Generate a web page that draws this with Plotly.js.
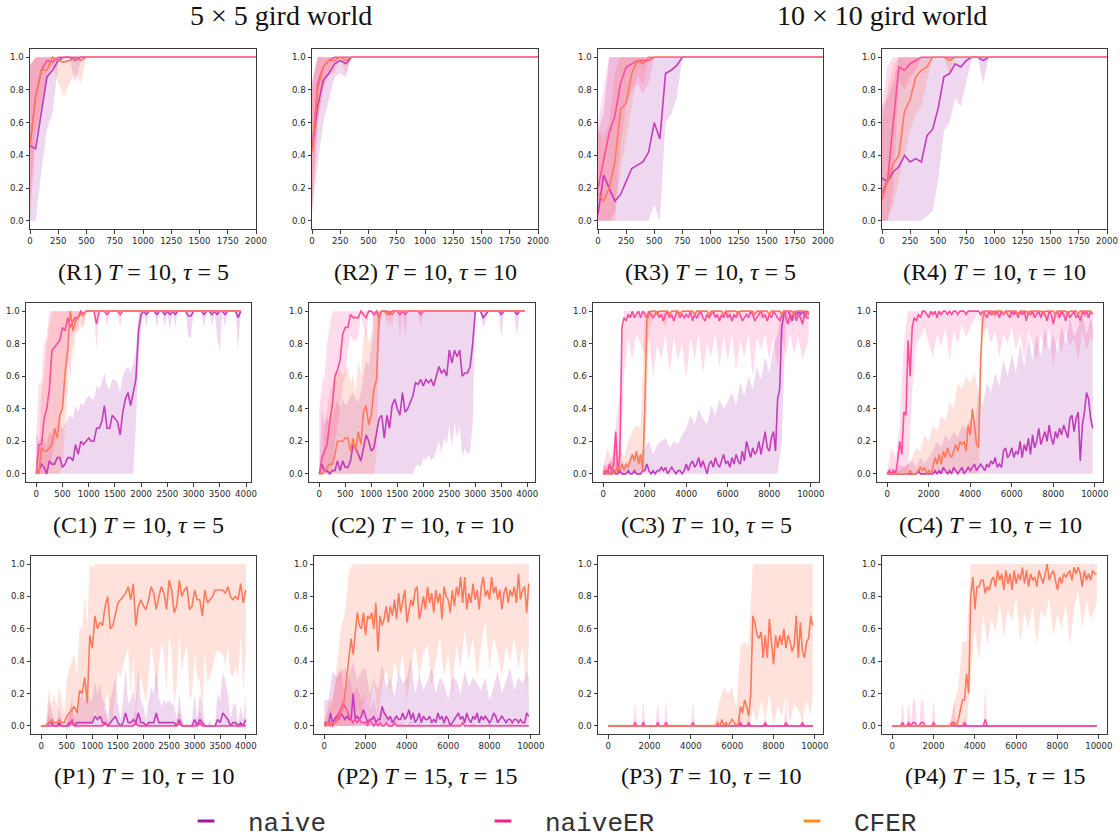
<!DOCTYPE html>
<html>
<head>
<meta charset="utf-8">
<script src="https://cdn.plot.ly/plotly-3.0.1.min.js"></script>
<style>html,body{margin:0;padding:0;background:#fff;}#chart{width:1120px;height:838px;}</style>
</head>
<body>
<div id="chart"></div>
<script>
function grid(a, b, s) { const r = []; for (let v = a; v <= b; v += s) r.push(v); return r; }

// ---------- x grids and tick labels ----------
const X_R = grid(0, 2000, 50);
const X_C1 = grid(0, 3900, 50);
const X_C2 = grid(0, 3950, 50);
const X_P1 = grid(0, 4000, 50);
const X_10K = grid(0, 9900, 100);
const XB_10K = grid(0, 9800, 200).concat([9900]);

const TICKS_2K = [0, 250, 500, 750, 1000, 1250, 1500, 1750, 2000];
const TICKS_4K = [0, 500, 1000, 1500, 2000, 2500, 3000, 3500, 4000];
const TICKS_10K = [0, 2000, 4000, 6000, 8000, 10000];
const Y_TICKS = [0, 0.2, 0.4, 0.6, 0.8, 1.0];
const Y_LABELS = ['0.0', '0.2', '0.4', '0.6', '0.8', '1.0'];

const SERIES = ['naive', 'naiveER', 'CFER'];
const CAPTIONS = ['(R1)', '(R2)', '(R3)', '(R4)', '(C1)', '(C2)', '(C3)', '(C4)', '(P1)', '(P2)', '(P3)', '(P4)'];
const T_VALUES = [10, 10, 10, 10, 10, 10, 10, 10, 10, 15, 10, 15];
const TAU_VALUES = [5, 10, 5, 10, 5, 10, 5, 10, 10, 15, 10, 15];
const GROUP_TITLES = ['5 × 5 gird world', '10 × 10 gird world'];

// ---------- R1 ----------
const R1_naive = [0.46,0.44,0.66,0.88,0.92,0.98,1,1,0.98,1, 1,1,1,1,1,1,1,1,1,1, 1,1,1,1,1,1,1,1,1,1, 1,1,1,1,1,1,1,1,1,1, 1];
const R1_naive_lo = [0,0,0.3,0.56,0.66,0.97,1,1,0.84,0.98, 1,1,1,1,1,1,1,1,1,1, 1,1,1,1,1,1,1,1,1,1, 1,1,1,1,1,1,1,1,1,1, 1];
const R1_naive_hi = [0.95,1,1,1,1,1,1,1,1,1, 1,1,1,1,1,1,1,1,1,1, 1,1,1,1,1,1,1,1,1,1, 1,1,1,1,1,1,1,1,1,1, 1];
const R1_er = [0.46,0.76,0.92,0.98,0.97,1,1,1,1,1, 1,1,1,1,1,1,1,1,1,1, 1,1,1,1,1,1,1,1,1,1, 1,1,1,1,1,1,1,1,1,1, 1];
const R1_er_lo = [0,0.5,0.64,0.92,0.94,1,1,1,1,1, 1,1,1,1,1,1,1,1,1,1, 1,1,1,1,1,1,1,1,1,1, 1,1,1,1,1,1,1,1,1,1, 1];
const R1_er_hi = [0.95,1,1,1,1,1,1,1,1,1, 1,1,1,1,1,1,1,1,1,1, 1,1,1,1,1,1,1,1,1,1, 1,1,1,1,1,1,1,1,1,1, 1];
const R1_cf = [0.46,0.76,0.92,0.92,1,0.98,0.97,0.98,0.99,0.98, 1,1,1,1,1,1,1,1,1,1, 1,1,1,1,1,1,1,1,1,1, 1,1,1,1,1,1,1,1,1,1, 1];
const R1_cf_lo = [0.1,0.55,0.7,0.84,0.95,0.84,0.76,0.84,0.9,0.84, 1,1,1,1,1,1,1,1,1,1, 1,1,1,1,1,1,1,1,1,1, 1,1,1,1,1,1,1,1,1,1, 1];
const R1_cf_hi = [0.95,1,1,1,1,1,1,1,1,1, 1,1,1,1,1,1,1,1,1,1, 1,1,1,1,1,1,1,1,1,1, 1,1,1,1,1,1,1,1,1,1, 1];

// ---------- R2 ----------
const R2_naive = [0.42,0.7,0.86,0.9,0.96,0.98,0.96,1,1,1, 1,1,1,1,1,1,1,1,1,1, 1,1,1,1,1,1,1,1,1,1, 1,1,1,1,1,1,1,1,1,1, 1];
const R2_naive_lo = [0.05,0.35,0.6,0.75,0.88,0.9,0.88,1,1,1, 1,1,1,1,1,1,1,1,1,1, 1,1,1,1,1,1,1,1,1,1, 1,1,1,1,1,1,1,1,1,1, 1];
const R2_naive_hi = [0.85,1,1,1,1,1,1,1,1,1, 1,1,1,1,1,1,1,1,1,1, 1,1,1,1,1,1,1,1,1,1, 1,1,1,1,1,1,1,1,1,1, 1];
const R2_er = [0.42,0.84,0.94,0.98,1,1,1,1,1,1, 1,1,1,1,1,1,1,1,1,1, 1,1,1,1,1,1,1,1,1,1, 1,1,1,1,1,1,1,1,1,1, 1];
const R2_er_lo = [0.05,0.6,0.8,0.9,1,1,1,1,1,1, 1,1,1,1,1,1,1,1,1,1, 1,1,1,1,1,1,1,1,1,1, 1,1,1,1,1,1,1,1,1,1, 1];
const R2_er_hi = [0.85,1,1,1,1,1,1,1,1,1, 1,1,1,1,1,1,1,1,1,1, 1,1,1,1,1,1,1,1,1,1, 1,1,1,1,1,1,1,1,1,1, 1];
const R2_cf = [0.42,0.8,0.94,0.98,0.98,1,0.98,1,1,1, 1,1,1,1,1,1,1,1,1,1, 1,1,1,1,1,1,1,1,1,1, 1,1,1,1,1,1,1,1,1,1, 1];
const R2_cf_lo = [0.1,0.6,0.82,0.9,0.9,1,0.9,1,1,1, 1,1,1,1,1,1,1,1,1,1, 1,1,1,1,1,1,1,1,1,1, 1,1,1,1,1,1,1,1,1,1, 1];
const R2_cf_hi = [0.8,1,1,1,1,1,1,1,1,1, 1,1,1,1,1,1,1,1,1,1, 1,1,1,1,1,1,1,1,1,1, 1,1,1,1,1,1,1,1,1,1, 1];

// ---------- R3 ----------
const R3_naive = [0.04,0.28,0.2,0.12,0.16,0.24,0.32,0.34,0.36,0.42, 0.6,0.5,0.9,0.92,0.95,1,1,1,1,1, 1,1,1,1,1,1,1,1,1,1, 1,1,1,1,1,1,1,1,1,1, 1];
const R3_naive_lo = [0,0,0,0,0,0,0,0,0,0, 0.1,0,0.6,0.65,0.75,1,1,1,1,1, 1,1,1,1,1,1,1,1,1,1, 1,1,1,1,1,1,1,1,1,1, 1];
const R3_naive_hi = [0.55,0.65,1,1,1,1,1,1,1,1, 1,1,1,1,1,1,1,1,1,1, 1,1,1,1,1,1,1,1,1,1, 1,1,1,1,1,1,1,1,1,1, 1];
const R3_er = [0.2,0.36,0.54,0.64,0.84,0.94,0.96,0.98,0.98,0.98, 1,1,1,1,1,1,1,1,1,1, 1,1,1,1,1,1,1,1,1,1, 1,1,1,1,1,1,1,1,1,1, 1];
const R3_er_lo = [0,0,0,0.05,0.45,0.7,0.8,0.84,0.78,0.84, 1,1,1,1,1,1,1,1,1,1, 1,1,1,1,1,1,1,1,1,1, 1,1,1,1,1,1,1,1,1,1, 1];
const R3_er_hi = [0.6,0.8,1,1,1,1,1,1,1,1, 1,1,1,1,1,1,1,1,1,1, 1,1,1,1,1,1,1,1,1,1, 1,1,1,1,1,1,1,1,1,1, 1];
const R3_cf = [0.17,0.12,0.2,0.36,0.68,0.72,0.9,0.98,0.96,1, 1,1,1,1,1,1,1,1,1,1, 1,1,1,1,1,1,1,1,1,1, 1,1,1,1,1,1,1,1,1,1, 1];
const R3_cf_lo = [0,0,0,0,0.3,0.5,0.7,0.9,0.84,1, 1,1,1,1,1,1,1,1,1,1, 1,1,1,1,1,1,1,1,1,1, 1,1,1,1,1,1,1,1,1,1, 1];
const R3_cf_hi = [0.55,0.5,0.6,0.9,1,1,1,1,1,1, 1,1,1,1,1,1,1,1,1,1, 1,1,1,1,1,1,1,1,1,1, 1,1,1,1,1,1,1,1,1,1, 1];

// ---------- R4 ----------
const R4_naive = [0.26,0.24,0.3,0.33,0.4,0.36,0.38,0.36,0.52,0.56, 0.69,0.88,0.9,0.96,0.94,0.98,1,1,0.98,1, 1,1,1,1,1,1,1,1,1,1, 1,1,1,1,1,1,1,1,1,1, 1];
const R4_naive_lo = [0,0,0,0,0,0,0,0,0.03,0.06, 0.25,0.55,0.6,0.75,0.7,0.85,1,1,0.84,1, 1,1,1,1,1,1,1,1,1,1, 1,1,1,1,1,1,1,1,1,1, 1];
const R4_naive_hi = [0.7,0.75,0.85,1,1,1,1,1,1,1, 1,1,1,1,1,1,1,1,1,1, 1,1,1,1,1,1,1,1,1,1, 1,1,1,1,1,1,1,1,1,1, 1];
const R4_er = [0.17,0.25,0.6,0.94,0.92,0.96,0.98,1,1,1, 1,1,1,1,1,1,1,1,1,1, 1,1,1,1,1,1,1,1,1,1, 1,1,1,1,1,1,1,1,1,1, 1];
const R4_er_lo = [0,0,0.2,0.85,0.8,0.88,0.92,1,1,1, 1,1,1,1,1,1,1,1,1,1, 1,1,1,1,1,1,1,1,1,1, 1,1,1,1,1,1,1,1,1,1, 1];
const R4_er_hi = [0.7,0.95,1,1,1,1,1,1,1,1, 1,1,1,1,1,1,1,1,1,1, 1,1,1,1,1,1,1,1,1,1, 1,1,1,1,1,1,1,1,1,1, 1];
const R4_cf = [0.13,0.24,0.35,0.4,0.67,0.74,0.88,0.92,0.94,1, 1,1,0.98,1,1,1,1,1,1,1, 1,1,1,1,1,1,1,1,1,1, 1,1,1,1,1,1,1,1,1,1, 1];
const R4_cf_lo = [0,0,0.1,0.25,0.4,0.55,0.65,0.7,0.85,1, 1,1,0.9,1,1,1,1,1,1,1, 1,1,1,1,1,1,1,1,1,1, 1,1,1,1,1,1,1,1,1,1, 1];
const R4_cf_hi = [0.6,0.8,0.95,1,1,1,1,1,1,1, 1,1,1,1,1,1,1,1,1,1, 1,1,1,1,1,1,1,1,1,1, 1,1,1,1,1,1,1,1,1,1, 1];

// ---------- C1 (0..3900 step 50) ----------
const C1_naive = [0.02,0.02,0.06,0.04,0,0.08,0.06,0.06,0.1,0.1, 0.04,0.06,0.1,0.1,0.08,0.18,0.12,0.2,0.18,0.2, 0.22,0.2,0.2,0.28,0.28,0.32,0.42,0.28,0.28,0.36, 0.34,0.32,0.24,0.38,0.46,0.5,0.42,0.5,0.58,0.88, 0.98,1,0.98,1,1,1,0.98,1,1,0.98, 1,0.98,1,0.98,1,1,1,1,0.97,0.97, 1,1,1,1,0.98,1,1,0.98,1,0.98, 1,1,0.98,1,1,1,1,0.96,1];
const C1_naive_lo = [0,0,0,0,0,0,0,0,0,0, 0,0,0,0,0,0,0,0,0,0, 0,0,0,0,0,0,0,0,0,0, 0,0,0,0,0,0,0,0,0.3,0.7, 0.9,1,0.9,1,1,1,0.9,1,1,0.9, 1,0.88,1,0.9,1,1,1,1,0.84,0.84, 1,1,1,1,0.9,1,1,0.9,1,0.84, 0.76,1,0.9,1,1,1,1,0.76,1];
const C1_naive_hi = [0.24,0.2,0.22,0.2,0.18,0.26,0.24,0.26,0.3,0.32, 0.28,0.3,0.34,0.36,0.34,0.42,0.38,0.44,0.42,0.46, 0.48,0.46,0.46,0.54,0.52,0.56,0.62,0.54,0.52,0.58, 0.58,0.56,0.5,0.6,0.64,0.66,0.62,0.68,0.76,1, 1,1,1,1,1,1,1,1,1,1, 1,1,1,1,1,1,1,1,1,1, 1,1,1,1,1,1,1,1,1,1, 1,1,1,1,1,1,1,1,1];
const C1_er = [0,0.18,0.18,0.34,0.4,0.52,0.76,0.78,0.8,0.82, 0.9,0.88,0.96,0.9,0.94,0.96,0.96,1,0.98,1, 1,1,1,0.92,1,1,1,0.98,1,1, 1,1,0.98,1,1,1,1,1,1,1, 1,1,1,1,1,1,1,1,1,1, 1,1,1,1,1,1,1,1,1,1, 1,1,1,1,1,1,1,1,1,1, 1,1,1,1,1,1,1,1,1];
const C1_er_lo = [0,0,0,0,0,0.05,0.1,0.2,0.3,0.3, 0.4,0.5,0.7,0.6,0.86,0.88,0.9,1,0.9,1, 1,1,1,0.76,1,1,1,0.9,1,1, 1,1,0.9,1,1,1,1,1,1,1, 1,1,1,1,1,1,1,1,1,1, 1,1,1,1,1,1,1,1,1,1, 1,1,1,1,1,1,1,1,1,1, 1,1,1,1,1,1,1,1,1];
const C1_er_hi = [0.24,0.56,0.56,0.8,0.84,1,1,1,1,1, 1,1,1,1,1,1,1,1,1,1, 1,1,1,1,1,1,1,1,1,1, 1,1,1,1,1,1,1,1,1,1, 1,1,1,1,1,1,1,1,1,1, 1,1,1,1,1,1,1,1,1,1, 1,1,1,1,1,1,1,1,1,1, 1,1,1,1,1,1,1,1,1];
const C1_cf = [0.04,0,0.16,0.14,0.14,0.16,0.18,0.28,0.22,0.36, 0.4,0.62,0.76,1,0.88,0.94,0.96,0.98,0.98,1, 1,1,1,1,1,1,1,1,1,1, 1,1,1,1,1,1,1,1,1,1, 1,1,1,1,1,1,1,1,1,1, 1,1,1,1,1,1,1,1,1,1, 1,1,1,1,1,1,1,1,1,1, 1,1,1,1,1,1,1,1,1];
const C1_cf_lo = [0,0,0,0,0,0,0,0,0,0, 0.05,0.3,0.5,1,0.7,0.86,0.88,0.9,0.9,1, 1,1,1,1,1,1,1,1,1,1, 1,1,1,1,1,1,1,1,1,1, 1,1,1,1,1,1,1,1,1,1, 1,1,1,1,1,1,1,1,1,1, 1,1,1,1,1,1,1,1,1,1, 1,1,1,1,1,1,1,1,1];
const C1_cf_hi = [0.1,0.12,0.5,0.6,0.8,0.9,1,1,1,1, 1,1,1,1,1,1,1,1,1,1, 1,1,1,1,1,1,1,1,1,1, 1,1,1,1,1,1,1,1,1,1, 1,1,1,1,1,1,1,1,1,1, 1,1,1,1,1,1,1,1,1,1, 1,1,1,1,1,1,1,1,1,1, 1,1,1,1,1,1,1,1,1];

// ---------- C2 (0..3950 step 50) ----------
const C2_naive = [0,0.06,0.02,0.02,0,0.02,0.02,0.08,0.02,0.08, 0.04,0.04,0.08,0.18,0.16,0.12,0.08,0.16,0.24,0.2, 0.14,0.16,0.26,0.34,0.36,0.22,0.36,0.28,0.42,0.46, 0.4,0.36,0.5,0.38,0.4,0.44,0.48,0.56,0.55,0.58, 0.54,0.58,0.56,0.58,0.54,0.6,0.66,0.62,0.64,0.6, 0.76,0.68,0.76,0.72,0.76,0.6,0.62,0.62,0.66,0.8, 1,1,1,0.96,0.98,1,1,1,1,1, 0.98,1,1,1,1,1,0.98,1,1,1];
const C2_naive_lo = [0,0,0,0,0,0,0,0,0,0, 0,0,0,0,0,0,0,0,0,0, 0,0,0,0,0,0,0,0,0,0, 0,0,0,0,0,0,0,0.04,0.06,0.04, 0.1,0.08,0.12,0.08,0.1,0.14,0.2,0.12,0.22,0.18, 0.3,0.16,0.32,0.22,0.3,0.1,0.16,0.12,0.14,0.3, 1,1,1,0.9,0.94,1,1,1,1,1, 0.84,1,1,1,1,1,0.84,1,1,1];
const C2_naive_hi = [0.04,0.4,0.3,0.35,0.3,0.35,0.4,0.45,0.4,0.46, 0.42,0.44,0.48,0.5,0.46,0.44,0.5,0.6,0.7,0.66, 0.8,0.9,1,1,1,1,1,1,1,1, 1,1,1,1,1,1,1,1,1,1, 1,1,1,1,1,1,1,1,1,1, 1,1,1,1,1,1,1,1,1,1, 1,1,1,1,1,1,1,1,1,1, 1,1,1,1,1,1,1,1,1,1];
const C2_er = [0,0.1,0.14,0.18,0.32,0.42,0.6,0.64,0.7,0.86, 0.9,0.9,0.98,0.96,0.96,0.96,1,0.98,0.96,1, 1,0.98,1,0.96,1,1,1,0.98,1,1, 1,0.98,1,0.98,1,1,1,1,1,0.98, 1,1,1,1,1,1,1,1,1,1, 1,1,1,1,1,1,1,1,1,1, 1,1,1,1,1,1,1,1,1,1, 1,1,1,1,1,1,1,1,1,1];
const C2_er_lo = [0,0,0,0,0,0.05,0.2,0.3,0.4,0.55, 0.6,0.75,0.85,0.82,0.82,0.84,1,0.9,0.84,1, 1,0.9,1,0.84,1,1,1,0.9,1,1, 1,0.84,1,0.84,1,1,1,1,1,0.9, 1,1,1,1,1,1,1,1,1,1, 1,1,1,1,1,1,1,1,1,1, 1,1,1,1,1,1,1,1,1,1, 1,1,1,1,1,1,1,1,1,1];
const C2_er_hi = [0.4,0.55,0.6,0.8,0.9,1,1,1,1,1, 1,1,1,1,1,1,1,1,1,1, 1,1,1,1,1,1,1,1,1,1, 1,1,1,1,1,1,1,1,1,1, 1,1,1,1,1,1,1,1,1,1, 1,1,1,1,1,1,1,1,1,1, 1,1,1,1,1,1,1,1,1,1, 1,1,1,1,1,1,1,1,1,1];
const C2_cf = [0,0,0.02,0.04,0.06,0.06,0.12,0.2,0.2,0.2, 0.22,0.22,0.14,0.22,0.14,0.26,0.18,0.38,0.42,0.3, 0.36,0.52,0.58,0.98,1,1,0.98,1,0.98,1, 1,1,1,1,1,1,1,1,1,1, 1,1,1,1,1,1,1,1,1,1, 1,1,1,1,1,1,1,1,1,1, 1,1,1,1,1,1,1,1,1,1, 1,1,1,1,1,1,1,1,1,1];
const C2_cf_lo = [0,0,0,0,0,0,0,0,0,0, 0,0,0,0,0,0,0,0,0,0, 0,0,0.1,0.85,1,1,0.9,1,0.9,1, 1,1,1,1,1,1,1,1,1,1, 1,1,1,1,1,1,1,1,1,1, 1,1,1,1,1,1,1,1,1,1, 1,1,1,1,1,1,1,1,1,1, 1,1,1,1,1,1,1,1,1,1];
const C2_cf_hi = [0.02,0.06,0.3,0.4,0.5,0.55,0.6,0.62,0.64,0.6, 0.64,0.66,0.56,0.6,0.5,0.7,0.6,0.84,0.9,0.8, 0.86,1,1,1,1,1,1,1,1,1, 1,1,1,1,1,1,1,1,1,1, 1,1,1,1,1,1,1,1,1,1, 1,1,1,1,1,1,1,1,1,1, 1,1,1,1,1,1,1,1,1,1, 1,1,1,1,1,1,1,1,1,1];

// ---------- C3 (lines step 100, bands step 200) ----------
const C3_naive = [0,0,0.02,0,0,0.02,0,0,0.02,0, 0,0,0.02,0,0,0.02,0,0,0,0.02, 0.02,0.06,0.02,0,0.02,0,0.02,0.02,0.04,0.02, 0.04,0,0.02,0.04,0.02,0,0.02,0.02,0,0.02, 0.06,0.02,0.06,0.08,0.04,0.06,0.1,0.04,0.08,0.04, 0,0.06,0.08,0.04,0.1,0.06,0.04,0.08,0.12,0.06, 0.08,0.04,0.1,0.06,0.12,0.08,0.06,0.14,0.08,0.2, 0.14,0.1,0.16,0.12,0.14,0.2,0.12,0.18,0.26,0.16, 0.14,0.22,0.26,0.14,0.46,0.52,0.9,0.98,1,1, 0.98,0.94,1,0.98,1,0.98,1,0.98,1,0.98];
const C3_naive_lo = [0,0,0,0,0,0,0,0,0,0, 0,0,0,0,0,0,0,0,0,0, 0,0,0,0,0,0,0,0,0,0, 0,0,0,0,0,0,0,0,0,0, 0,0,0,0.2,0.95,0.92,0.95,0.96,0.95,0.96, 0.95];
const C3_naive_hi = [0.04,0.06,0.08,0.06,0.1,0.06,0.08,0.12,0.1,0.12, 0.16,0.2,0.12,0.18,0.2,0.22,0.16,0.2,0.18,0.24, 0.28,0.36,0.3,0.4,0.34,0.3,0.42,0.36,0.46,0.4, 0.44,0.5,0.42,0.56,0.48,0.6,0.52,0.66,0.58,0.72, 0.62,0.78,0.86,1,1,1,1,1,1,1, 1];
const C3_er = [0,0.02,0,0.06,0.02,0.06,0.26,0,0.12,0.9, 0.96,0.94,0.98,0.96,1,0.96,0.98,1,0.96,1, 0.98,0.96,1,0.98,0.96,0.98,1,0.96,0.98,0.94, 0.98,1,0.96,0.98,0.94,0.98,1,0.96,0.98,0.96, 0.98,0.96,1,0.94,0.98,0.96,0.98,1,0.96,0.94, 0.98,0.96,0.98,1,0.96,0.98,0.94,0.98,0.96,1, 0.96,0.98,0.94,0.98,0.96,1,0.98,0.94,0.96,0.98, 0.96,1,0.98,0.94,0.96,0.98,1,0.96,0.98,0.94, 0.98,0.96,1,0.98,0.96,0.94,0.98,1,0.96,0.92, 0.98,0.96,1,0.94,0.98,0.96,0.92,0.98,0.96,0.96];
const C3_er_lo = [0,0,0,0,0,0.6,0.84,0.7,0.86,0.8, 0.72,0.84,0.6,0.8,0.7,0.86,0.62,0.84,0.7,0.8, 0.58,0.84,0.7,0.86,0.62,0.8,0.72,0.86,0.66,0.84, 0.7,0.86,0.64,0.82,0.72,0.86,0.6,0.84,0.76,0.86, 0.7,0.84,0.66,0.84,0.72,0.86,0.74,0.84,0.7,0.78, 0.84];
const C3_er_hi = [0.04,0.16,0.08,0.3,0.5,1,1,1,1,1, 1,1,1,1,1,1,1,1,1,1, 1,1,1,1,1,1,1,1,1,1, 1,1,1,1,1,1,1,1,1,1, 1,1,1,1,1,1,1,1,1,1, 1];
const C3_cf = [0.02,0,0,0,0.02,0,0.02,0.04,0.02,0.06, 0.02,0.06,0.04,0.08,0.12,0.08,0.14,0.06,0.12,0.02, 0.4,0.94,0.98,1,1,1,0.98,1,1,1, 1,1,0.98,1,1,1,1,0.98,1,1, 1,1,1,1,0.98,1,1,1,1,1, 1,0.98,1,1,1,1,1,1,0.98,1, 1,1,1,1,1,0.98,1,1,1,1, 1,1,1,0.98,1,1,1,1,1,1, 0.98,1,1,1,1,1,0.98,1,1,1, 1,1,0.98,1,1,1,1,1,0.98,1];
const C3_cf_lo = [0,0,0,0,0,0,0,0,0,0, 0.05,0.9,0.95,1,1,0.9,1,1,0.95,1, 1,1,1,0.95,1,1,1,1,1,1, 0.95,1,1,1,1,1,1,1,0.95,1, 1,1,1,1,0.95,1,1,1,1,1, 1];
const C3_cf_hi = [0.06,0.04,0.1,0.14,0.16,0.1,0.2,0.26,0.3,0.28, 1,1,1,1,1,1,1,1,1,1, 1,1,1,1,1,1,1,1,1,1, 1,1,1,1,1,1,1,1,1,1, 1,1,1,1,1,1,1,1,1,1, 1];

// ---------- C4 ----------
const C4_naive = [0,0,0,0,0,0,0,0,0,0, 0,0,0,0,0,0.02,0,0,0,0, 0,0,0,0.02,0,0.02,0,0.04,0.02,0, 0.02,0,0.04,0.02,0,0.02,0.04,0,0.02,0.04, 0.02,0.04,0.06,0.02,0.04,0.06,0.04,0.02,0.06,0.04, 0.08,0.06,0.1,0.04,0.06,0.04,0.14,0.16,0.1,0.12, 0.16,0.1,0.14,0.12,0.2,0.1,0.18,0.14,0.22,0.12, 0.24,0.16,0.2,0.28,0.18,0.22,0.26,0.2,0.3,0.22, 0.18,0.26,0.22,0.28,0.24,0.3,0.26,0.22,0.34,0.36, 0.26,0.34,0.38,0.08,0.3,0.38,0.5,0.46,0.34,0.28];
const C4_naive_hi = [0.02,0.04,0.02,0.06,0.04,0.06,0.08,0.04,0.1,0.06, 0.1,0.14,0.2,0.16,0.24,0.2,0.26,0.22,0.3,0.28, 0.34,0.3,0.5,0.42,0.56,0.5,0.62,0.54,0.7,0.6, 0.74,0.62,0.8,0.66,0.84,0.7,0.86,0.72,0.9,0.76, 0.86,0.74,0.92,0.8,0.96,0.84,0.9,0.98,0.86,0.96, 0.9];
const C4_er = [0,0.02,0,0.02,0,0.08,0.2,0.12,0.38,0.36, 0.82,0.6,0.9,0.96,0.94,0.98,0.96,1,1,0.98, 0.96,1,0.98,1,0.96,1,0.98,1,1,0.98, 1,0.98,1,1,0.98,1,1,1,0.98,1, 1,1,1,1,1,0.98,1,0.98,0.96,1, 0.98,1,0.98,1,0.96,1,0.98,1,0.98,0.96, 1,0.98,1,0.96,1,0.98,1,0.94,1,0.98, 1,0.96,0.98,1,0.96,1,0.98,0.94,1,0.98, 0.92,0.98,1,0.96,1,0.98,0.94,1,0.96,0.98, 1,0.96,0.98,0.94,1,0.98,1,0.96,1,0.98];
const C4_er_lo = [0,0,0,0,0,0,0.5,0.8,0.84,0.9, 0.8,0.72,0.86,0.78,0.9,0.7,0.88,0.8,0.92,0.84, 0.9,0.95,1,0.86,0.9,0.8,0.88,0.72,0.86,0.8, 0.9,0.76,0.86,0.7,0.88,0.8,0.7,0.86,0.76,0.9, 0.66,0.84,0.74,0.88,0.78,0.84,0.7,0.88,0.76,0.84, 0.8];
const C4_er_hi = [0.02,0.16,0.1,0.3,0.8,1,1,1,1,1, 1,1,1,1,1,1,1,1,1,1, 1,1,1,1,1,1,1,1,1,1, 1,1,1,1,1,1,1,1,1,1, 1,1,1,1,1,1,1,1,1,1, 1];
const C4_cf = [0,0,0,0,0,0,0,0,0,0, 0,0.02,0,0,0,0.02,0.04,0.02,0.04,0, 0.02,0,0.04,0.1,0.06,0.12,0.06,0.14,0.1,0.16, 0.12,0.1,0.14,0.18,0.14,0.2,0.18,0.2,0.14,0.3, 0.24,0.4,0.3,0.18,0.16,0.7,0.96,1,1,1, 1,0.98,1,1,1,1,0.98,1,1,1, 1,1,1,0.98,1,1,1,1,0.98,1, 1,1,1,1,1,0.98,1,1,1,1, 1,0.98,1,1,1,1,1,0.98,1,1, 1,1,0.98,1,1,1,1,1,1,0.98];
const C4_cf_lo = [0,0,0,0,0,0,0,0,0,0, 0,0,0,0,0,0,0,0,0,0, 0,0,0,0.9,1,1,0.95,1,1,1, 0.95,1,1,1,1,0.95,1,1,1,1, 1,0.95,1,1,1,1,1,1,0.95,1, 1];
const C4_cf_hi = [0,0,0.02,0.02,0.04,0.06,0.1,0.16,0.14,0.24, 0.2,0.3,0.26,0.36,0.32,0.44,0.4,0.56,0.52,0.6, 0.56,0.62,0.5,1,1,1,1,1,1,1, 1,1,1,1,1,1,1,1,1,1, 1,1,1,1,1,1,1,1,1,1, 1];

// ---------- P1 (0..4000 step 50) ----------
const P1_naive = [0,0,0,0.02,0.02,0,0,0.02,0,0, 0,0.02,0.02,0,0.02,0.02,0.02,0.02,0.02,0.02, 0.02,0.06,0.04,0.06,0.02,0.02,0,0.02,0.04,0.06, 0.02,0,0.02,0.08,0.02,0.02,0.04,0.02,0.08,0.02, 0.02,0,0.02,0.02,0.02,0.08,0.02,0.02,0.02,0.02, 0.02,0.02,0.02,0,0.04,0,0,0,0,0, 0.04,0,0.04,0.02,0,0,0,0,0,0.04, 0.02,0.08,0.06,0.04,0,0.02,0.02,0,0.02,0, 0.04];
const P1_naive_hi = [0,0,0,0.16,0.1,0.04,0,0.12,0.04,0, 0.02,0.1,0.14,0.04,0.12,0.16,0.2,0.16,0.2,0.16, 0.16,0.28,0.2,0.26,0.16,0.14,0.04,0.16,0.22,0.3, 0.14,0.04,0.16,0.36,0.14,0.16,0.22,0.14,0.36,0.16, 0.12,0.04,0.16,0.24,0.2,0.36,0.18,0.12,0.16,0.14, 0.16,0.14,0.12,0.04,0.2,0.04,0,0.02,0,0.04, 0.2,0.04,0.2,0.12,0.02,0,0.04,0,0.02,0.2, 0.16,0.34,0.28,0.2,0.04,0.12,0.14,0.02,0.12,0.04, 0.2];
const P1_er = [0,0,0,0,0,0,0,0,0,0, 0,0,0.04,0,0,0,0,0,0,0, 0,0,0,0,0,0.02,0,0,0,0, 0,0,0,0,0,0,0,0.02,0,0, 0,0,0,0,0,0,0,0,0,0, 0,0,0,0,0.02,0,0,0,0,0, 0,0,0.02,0,0,0,0,0,0,0, 0,0,0,0,0,0,0,0,0,0, 0];
const P1_er_hi = [0,0,0,0.08,0,0,0,0,0,0, 0,0.06,0.18,0.06,0,0,0,0,0,0, 0,0,0,0,0.04,0.1,0.04,0,0,0, 0,0,0,0,0,0,0.04,0.1,0.04,0, 0,0,0,0,0,0,0,0,0,0, 0,0,0,0.04,0.1,0.04,0,0,0,0, 0,0.04,0.1,0.04,0,0,0,0,0,0, 0,0,0,0,0,0,0,0,0,0, 0];
const P1_cf = [0,0,0,0.02,0.04,0.02,0.02,0.04,0.02,0.02, 0.06,0.08,0.1,0.12,0.08,0.22,0.2,0.3,0.14,0.56, 0.48,0.68,0.6,0.64,0.62,0.74,0.8,0.6,0.62,0.7, 0.76,0.78,0.8,0.82,0.86,0.78,0.88,0.62,0.74,0.78, 0.74,0.72,0.78,0.86,0.82,0.72,0.8,0.86,0.82,0.72, 0.9,0.84,0.7,0.74,0.9,0.8,0.84,0.86,0.72,0.74, 0.84,0.78,0.78,0.68,0.84,0.76,0.78,0.8,0.84,0.84, 0.84,0.84,0.82,0.86,0.8,0.78,0.8,0.78,0.88,0.76, 0.84];
const P1_cf_lo = [0,0,0,0,0,0,0,0,0,0, 0,0,0,0,0,0,0,0,0,0, 0.02,0.1,0.04,0.08,0.02,0.16,0.2,0.02,0.06,0.2, 0.34,0.3,0.38,0.44,0.48,0.2,0.42,0.04,0.26,0.3, 0.22,0.14,0.3,0.5,0.4,0.18,0.36,0.52,0.44,0.2, 0.56,0.46,0.12,0.26,0.58,0.34,0.44,0.5,0.16,0.2, 0.44,0.3,0.28,0.06,0.44,0.26,0.3,0.36,0.44,0.46, 0.46,0.44,0.38,0.5,0.32,0.3,0.36,0.3,0.56,0.22, 0.44];
const P1_cf_hi = [0,0,0.04,0.24,0.12,0.2,0.12,0.24,0.16,0.08, 0.3,0.36,0.4,0.44,0.3,0.62,0.58,0.8,0.6,1, 0.98,1,1,1,1,1,1,1,1,1, 1,1,1,1,1,1,1,1,1,1, 1,1,1,1,1,1,1,1,1,1, 1,1,1,1,1,1,1,1,1,1, 1,1,1,1,1,1,1,1,1,1, 1,1,1,1,1,1,1,1,1,1, 1];

// ---------- P2 ----------
const P2_naive = [0.02,0.02,0,0.08,0.02,0.04,0.06,0.04,0.08,0.06, 0.04,0.06,0.04,0.04,0.2,0.04,0.06,0.04,0.06,0.1, 0.06,0.02,0.04,0.04,0.06,0.02,0.04,0.04,0.12,0.08, 0.06,0.04,0.06,0.02,0.04,0.06,0.04,0.04,0.08,0.04, 0.06,0.1,0.04,0.08,0.02,0.04,0.08,0.02,0.06,0.04, 0.04,0.06,0.02,0.04,0.02,0.08,0.04,0.06,0.02,0.06, 0.04,0,0.02,0.04,0.06,0.08,0.04,0.06,0.02,0.08, 0.04,0.02,0.06,0.04,0.08,0.02,0.06,0.04,0.06,0.04, 0.02,0.04,0.08,0.06,0.02,0.04,0.06,0.04,0.02,0.04, 0.04,0.02,0.04,0.04,0.02,0.04,0.02,0.02,0.08,0.06];
const P2_naive_hi = [0.16,0.16,0.34,0.3,0.36,0.2,0.32,0.4,0.28,0.34, 0.36,0.2,0.3,0.22,0.38,0.24,0.3,0.18,0.34,0.26, 0.3,0.42,0.2,0.32,0.22,0.28,0.36,0.2,0.3,0.26, 0.16,0.3,0.28,0.2,0.34,0.24,0.3,0.26,0.22,0.3, 0.16,0.24,0.34,0.2,0.28,0.36,0.22,0.3,0.26,0.34, 0.3];
const P2_er = [0,0.02,0.02,0.02,0,0.02,0.04,0.08,0.1,0.14, 0.12,0.1,0.06,0.04,0.02,0.04,0.02,0.04,0.02,0.02, 0.02,0,0.04,0.02,0,0.02,0,0.02,0,0, 0.02,0,0,0,0.02,0,0,0,0,0, 0,0,0,0,0,0,0,0,0,0, 0,0,0,0,0,0,0,0,0,0, 0,0,0,0,0,0,0,0.02,0,0, 0,0,0,0,0,0,0,0,0,0, 0,0,0,0,0,0,0,0,0,0, 0,0,0,0,0,0,0,0,0,0];
const P2_er_hi = [0.02,0.1,0.16,0.3,0.34,0.36,0.3,0.2,0.24,0.16, 0.2,0.1,0.16,0.06,0.12,0.08,0.04,0.06,0.02,0.02, 0,0.04,0,0.02,0,0,0.02,0,0,0.04, 0,0,0.02,0,0,0,0.02,0,0,0, 0.02,0,0,0,0,0.02,0,0,0,0, 0];
const P2_cf = [0,0,0.02,0,0.02,0.02,0.02,0.06,0.08,0.1, 0.2,0.32,0.4,0.54,0.44,0.56,0.7,0.62,0.6,0.7, 0.56,0.68,0.66,0.7,0.6,0.76,0.46,0.68,0.62,0.66, 0.74,0.64,0.74,0.68,0.78,0.66,0.82,0.7,0.76,0.84, 0.64,0.72,0.78,0.74,0.84,0.86,0.66,0.72,0.8,0.72, 0.86,0.76,0.82,0.7,0.84,0.76,0.82,0.66,0.86,0.8, 0.78,0.7,0.84,0.74,0.86,0.8,0.92,0.76,0.92,0.72, 0.82,0.76,0.88,0.78,0.84,0.72,0.86,0.92,0.8,0.84, 0.78,0.92,0.82,0.86,0.78,0.84,0.72,0.82,0.86,0.76, 0.84,0.8,0.86,0.76,0.94,0.78,0.84,0.86,0.7,0.88];
const P2_cf_lo = [0,0,0,0,0,0,0,0,0.1,0.05, 0.2,0.1,0.3,0.05,0.25,0.35,0.2,0.4,0.3,0.45, 0.15,0.35,0.5,0.3,0.45,0.5,0.25,0.4,0.55,0.3, 0.45,0.2,0.5,0.35,0.6,0.4,0.55,0.3,0.5,0.65, 0.35,0.55,0.45,0.3,0.5,0.4,0.55,0.35,0.5,0.2, 0.5];
const P2_cf_hi = [0,0.16,0.16,0.36,0.6,0.7,0.96,1,1,1, 1,1,1,1,1,1,1,1,1,1, 1,1,1,1,1,1,1,1,1,1, 1,1,1,1,1,1,1,1,1,1, 1,1,1,1,1,1,1,1,1,1, 1];

// ---------- P3 ----------
const P3_naive = [0,0,0,0,0,0,0,0,0,0, 0,0,0,0,0,0,0,0,0,0, 0,0,0,0,0,0,0,0,0,0, 0,0,0,0,0,0,0,0,0,0, 0,0,0,0,0,0,0,0,0,0, 0,0,0,0,0,0,0,0,0,0, 0,0,0,0,0,0,0,0,0,0, 0,0,0,0,0,0,0,0,0,0, 0,0,0,0,0,0,0,0,0,0, 0,0,0,0,0,0,0,0,0,0];
const P3_er = [0,0,0,0,0,0,0,0,0,0, 0,0,0,0.02,0,0,0,0.02,0,0, 0,0,0,0,0.02,0,0,0,0.02,0, 0,0,0,0,0,0,0,0,0,0, 0,0.02,0,0,0,0,0,0,0,0, 0,0,0,0,0,0,0,0,0,0, 0,0,0,0,0.02,0,0,0,0.02,0, 0,0,0,0,0,0,0.02,0,0,0, 0,0,0,0,0,0,0.02,0,0,0, 0,0,0,0,0.02,0,0,0,0,0];
const P3_er_hi = [0,0,0,0,0,0,0,0,0,0, 0,0,0,0.16,0,0,0,0.16,0,0, 0,0,0,0,0.16,0,0,0,0.16,0, 0,0,0,0,0,0,0,0,0,0, 0,0.16,0,0,0,0,0,0,0,0, 0,0,0,0.06,0,0,0,0,0,0, 0,0,0,0,0.06,0,0,0,0.06,0, 0,0,0,0,0,0,0.06,0,0,0, 0,0,0,0,0,0,0.16,0,0,0, 0,0,0,0,0.06,0,0,0,0,0];
const P3_cf = [0,0,0,0,0,0,0,0,0,0, 0,0,0,0,0,0,0,0,0,0, 0,0,0,0,0,0,0,0,0,0, 0,0,0,0,0,0,0,0,0,0, 0,0,0,0,0,0,0,0,0,0, 0,0,0,0.02,0,0.04,0,0.02,0,0.02, 0.04,0.02,0,0.02,0.12,0.08,0.16,0.12,0.06,0.2, 0.68,0.64,0.56,0.54,0.58,0.42,0.56,0.42,0.66,0.52, 0.38,0.56,0.48,0.56,0.5,0.6,0.48,0.56,0.52,0.46, 0.5,0.68,0.42,0.64,0.46,0.42,0.52,0.54,0.68,0.62];
const P3_cf_lo = [0,0,0,0,0,0,0,0,0,0, 0,0,0,0,0,0,0,0,0,0, 0,0,0,0,0,0,0,0,0,0, 0,0,0,0,0,0.1,0.02,0.16,0.04,0.2, 0,0.12,0.06,0.18,0.02,0.14,0.1,0.04,0.16,0.06, 0.2];
const P3_cf_hi = [0,0,0,0,0,0,0,0,0,0, 0,0,0,0,0,0,0,0,0,0, 0,0,0,0,0,0,0.04,0.16,0.24,0.2, 0.24,0.1,0.5,0.52,0.5,1,1,1,1,1, 1,1,1,1,1,1,1,1,1,1, 1];

// ---------- P4 ----------
const P4_naive = [0,0,0,0,0,0,0,0,0,0, 0,0,0,0,0,0,0,0,0,0, 0,0,0,0,0,0,0,0,0,0, 0,0,0,0,0,0,0,0,0,0, 0,0,0,0,0,0,0,0,0,0, 0,0,0,0,0,0,0,0,0,0, 0,0,0,0,0,0,0,0,0,0, 0,0,0,0,0,0,0,0,0,0, 0,0,0,0,0,0,0,0,0,0, 0,0,0,0,0,0,0,0,0,0];
const P4_er = [0,0,0,0,0,0.02,0,0,0.02,0, 0.02,0.02,0,0,0.02,0.02,0,0,0,0, 0.02,0,0,0,0,0,0,0,0,0.02, 0.02,0,0,0,0,0.02,0,0,0,0, 0,0,0,0,0,0.04,0,0,0,0, 0,0,0,0,0,0,0,0,0,0, 0,0,0,0,0,0,0,0,0,0, 0,0,0,0,0,0,0,0,0,0, 0,0,0,0,0,0,0,0,0,0, 0,0,0,0,0,0,0,0,0,0];
const P4_er_hi = [0,0,0,0,0,0.16,0,0,0.16,0, 0.16,0.16,0,0,0.16,0.16,0,0,0,0, 0.16,0,0,0,0,0,0,0,0,0.06, 0.16,0,0,0,0,0.06,0,0,0,0, 0,0,0,0,0,0.24,0,0,0,0, 0,0,0,0,0,0,0,0,0,0, 0,0,0,0,0,0,0,0,0,0, 0,0,0,0,0,0,0,0,0,0, 0,0,0,0,0,0,0,0,0,0, 0,0,0,0,0,0,0,0,0,0];
const P4_cf = [0,0,0,0,0,0,0,0,0,0, 0,0,0,0,0,0,0,0,0,0, 0,0,0,0,0,0,0,0,0,0, 0.02,0,0.04,0.1,0.16,0.16,0.32,0.2,0.8,0.92, 0.72,0.86,0.86,0.9,0.9,0.82,0.86,0.84,0.9,0.92, 0.86,0.96,0.9,0.94,0.84,0.96,0.88,0.94,0.84,0.96, 0.88,0.94,0.9,0.98,0.88,0.96,0.86,0.94,0.9,0.92, 0.86,0.96,0.92,0.88,0.94,1,0.9,0.94,0.96,0.9, 0.84,0.92,0.88,0.94,0.92,0.94,0.96,0.9,0.98,0.94, 0.98,0.94,0.86,0.96,0.9,0.94,0.9,0.96,0.94,0.94];
const P4_cf_lo = [0,0,0,0,0,0,0,0,0,0, 0,0,0,0,0,0,0,0,0,0.3, 0.6,0.4,0.7,0.5,0.66,0.58,0.76,0.55,0.72,0.64, 0.8,0.52,0.7,0.6,0.74,0.5,0.72,0.66,0.8,0.56, 0.7,0.6,0.76,0.5,0.72,0.84,0.6,0.78,0.66,0.72, 0.76];
const P4_cf_hi = [0,0,0,0,0,0,0,0,0,0, 0,0,0,0,0.04,0.14,0.24,0.52,0.52,1, 1,1,1,1,1,1,1,1,1,1, 1,1,1,1,1,1,1,1,1,1, 1,1,1,1,1,1,1,1,1,1, 1];

// ---------- styling ----------
const W = 1120, H = 838;
const LINE_COLORS = ['#c23cbb', '#ff4d9e', '#ff7a5c'];
const BAND_COLORS = ['rgba(170,50,170,0.19)', 'rgba(255,40,140,0.17)', 'rgba(255,110,80,0.2)'];
const LEGEND_COLORS = ['#9a1c9a', '#ff1a8c', '#ff8c1a'];

// boxes: [left, top, right, bottom] in px
const panels = [
  {box:[30,49,256,229], range:[0,2000], ticks:TICKS_2K, lx:X_R, lines:[R1_naive,R1_er,R1_cf], bands:[[X_R,R1_naive_lo,R1_naive_hi],[X_R,R1_er_lo,R1_er_hi],[X_R,R1_cf_lo,R1_cf_hi]]},
  {box:[312,49,538,229], range:[0,2000], ticks:TICKS_2K, lx:X_R, lines:[R2_naive,R2_er,R2_cf], bands:[[X_R,R2_naive_lo,R2_naive_hi],[X_R,R2_er_lo,R2_er_hi],[X_R,R2_cf_lo,R2_cf_hi]]},
  {box:[598,49,823,229], range:[0,2000], ticks:TICKS_2K, lx:X_R, lines:[R3_naive,R3_er,R3_cf], bands:[[X_R,R3_naive_lo,R3_naive_hi],[X_R,R3_er_lo,R3_er_hi],[X_R,R3_cf_lo,R3_cf_hi]]},
  {box:[882,49,1107,229], range:[0,2000], ticks:TICKS_2K, lx:X_R, lines:[R4_naive,R4_er,R4_cf], bands:[[X_R,R4_naive_lo,R4_naive_hi],[X_R,R4_er_lo,R4_er_hi],[X_R,R4_cf_lo,R4_cf_hi]]},
  {box:[26,303,251,482], range:[-195,4095], ticks:TICKS_4K, lx:X_C1, lines:[C1_naive,C1_er,C1_cf], bands:[[X_C1,C1_naive_lo,C1_naive_hi],[X_C1,C1_er_lo,C1_er_hi],[X_C1,C1_cf_lo,C1_cf_hi]]},
  {box:[309,303,535,482], range:[-198,4148], ticks:TICKS_4K, lx:X_C2, lines:[C2_naive,C2_er,C2_cf], bands:[[X_C2,C2_naive_lo,C2_naive_hi],[X_C2,C2_er_lo,C2_er_hi],[X_C2,C2_cf_lo,C2_cf_hi]]},
  {box:[593,303,819,482], range:[-495,10395], ticks:TICKS_10K, lx:X_10K, lines:[C3_naive,C3_er,C3_cf], bands:[[XB_10K,C3_naive_lo,C3_naive_hi],[XB_10K,C3_er_lo,C3_er_hi],[XB_10K,C3_cf_lo,C3_cf_hi]]},
  {box:[877,303,1103,482], range:[-495,10395], ticks:TICKS_10K, lx:X_10K, lines:[C4_naive,C4_er,C4_cf], bands:[[XB_10K,null,C4_naive_hi],[XB_10K,C4_er_lo,C4_er_hi],[XB_10K,C4_cf_lo,C4_cf_hi]]},
  {box:[31,556,256,734], range:[-200,4200], ticks:TICKS_4K, lx:X_P1, lines:[P1_naive,P1_er,P1_cf], bands:[[X_P1,null,P1_naive_hi],[X_P1,null,P1_er_hi],[X_P1,P1_cf_lo,P1_cf_hi]]},
  {box:[314,556,539,734], range:[-495,10395], ticks:TICKS_10K, lx:X_10K, lines:[P2_naive,P2_er,P2_cf], bands:[[XB_10K,null,P2_naive_hi],[XB_10K,null,P2_er_hi],[XB_10K,P2_cf_lo,P2_cf_hi]]},
  {box:[598,556,823,734], range:[-495,10395], ticks:TICKS_10K, lx:X_10K, lines:[P3_naive,P3_er,P3_cf], bands:[null,[X_10K,null,P3_er_hi],[XB_10K,P3_cf_lo,P3_cf_hi]]},
  {box:[882,556,1107,734], range:[-495,10395], ticks:TICKS_10K, lx:X_10K, lines:[P4_naive,P4_er,P4_cf], bands:[null,[X_10K,null,P4_er_hi],[XB_10K,P4_cf_lo,P4_cf_hi]]}
];
const CAPTION_Y = [272, 525, 776];

const traces = [];
const layout = {
  width: W, height: H,
  margin: {l: 0, r: 0, t: 0, b: 0, autoexpand: false},
  paper_bgcolor: '#ffffff', plot_bgcolor: '#ffffff',
  showlegend: true,
  annotations: [], shapes: []
};

const tickFont = {family: 'DejaVu Sans', size: 8.6, color: '#262626'};

panels.forEach((p, k) => {
  const s = k === 0 ? '' : String(k + 1);
  const xa = 'x' + s, ya = 'y' + s;
  const [l, t, r, b] = p.box;
  layout['xaxis' + s] = {
    domain: [l / W, r / W], range: p.range, anchor: ya, automargin: false,
    tickmode: 'array', tickvals: p.ticks, ticktext: p.ticks.map(String),
    showline: true, mirror: true, linecolor: '#3a3a3a', linewidth: 1,
    ticks: 'outside', ticklen: 3.5, tickwidth: 1, tickcolor: '#3a3a3a',
    showgrid: false, zeroline: false, tickfont: tickFont, fixedrange: true
  };
  layout['yaxis' + s] = {
    domain: [1 - b / H, 1 - t / H], range: [-0.05, 1.05], anchor: xa, automargin: false,
    tickmode: 'array', tickvals: Y_TICKS, ticktext: Y_LABELS,
    showline: true, mirror: true, linecolor: '#3a3a3a', linewidth: 1,
    ticks: 'outside', ticklen: 3.5, tickwidth: 1, tickcolor: '#3a3a3a',
    showgrid: false, zeroline: false, tickfont: tickFont, fixedrange: true
  };
  // bands
  p.bands.forEach((bd, i) => {
    if (!bd) return;
    const [bx, lo, hi] = bd;
    if (lo) {
      traces.push({x: bx, y: lo, xaxis: xa, yaxis: ya, type: 'scatter', mode: 'lines',
        line: {width: 0, color: BAND_COLORS[i]}, hoverinfo: 'skip', showlegend: false});
      traces.push({x: bx, y: hi, xaxis: xa, yaxis: ya, type: 'scatter', mode: 'lines',
        line: {width: 0, color: BAND_COLORS[i]}, fill: 'tonexty', fillcolor: BAND_COLORS[i],
        hoverinfo: 'skip', showlegend: false});
    } else {
      traces.push({x: bx, y: hi, xaxis: xa, yaxis: ya, type: 'scatter', mode: 'lines',
        line: {width: 0, color: BAND_COLORS[i]}, fill: 'tozeroy', fillcolor: BAND_COLORS[i],
        hoverinfo: 'skip', showlegend: false});
    }
  });
  // mean lines
  p.lines.forEach((ys, i) => {
    traces.push({x: p.lx, y: ys, xaxis: xa, yaxis: ya, type: 'scatter', mode: 'lines',
      name: SERIES[i], line: {width: 1.6, color: LINE_COLORS[i]}, showlegend: false});
  });
  // caption
  const row = Math.floor(k / 4);
  layout.annotations.push({
    xref: 'paper', yref: 'paper', x: ((l + r) / 2) / W, y: 1 - CAPTION_Y[row] / H,
    xanchor: 'center', yanchor: 'middle', showarrow: false,
    text: CAPTIONS[k] + ' <i>T</i> = ' + T_VALUES[k] + ', <i>τ</i> = ' + TAU_VALUES[k],
    font: {family: 'Liberation Serif', size: 24, color: '#111'}
  });
});

// group titles
[[281, GROUP_TITLES[0]], [882, GROUP_TITLES[1]]].forEach(([cx, txt]) => {
  layout.annotations.push({
    xref: 'paper', yref: 'paper', x: cx / W, y: 1 - 16 / H,
    xanchor: 'center', yanchor: 'middle', showarrow: false, text: txt,
    font: {family: 'Liberation Serif', size: 28, color: '#111'}
  });
});

// legends at bottom (three separate legends)
const legendX = [164, 461, 770];
SERIES.forEach((name, i) => {
  const key = i === 0 ? 'legend' : 'legend' + (i + 1);
  traces.push({x: [null], y: [null], xaxis: 'x', yaxis: 'y', type: 'scatter', mode: 'markers',
    name: name, legend: key, showlegend: true,
    marker: {symbol: 'line-ew', size: 12, color: LEGEND_COLORS[i], line: {width: 3, color: LEGEND_COLORS[i]}}});
  layout[key] = {
    x: legendX[i] / W, y: 1 - 821 / H, xanchor: 'left', yanchor: 'middle',
    orientation: 'h', bgcolor: 'rgba(0,0,0,0)', borderwidth: 0, itemwidth: 74,
    font: {family: 'Liberation Mono', size: 26, color: '#333'}
  };
});

Plotly.newPlot('chart', traces, layout, {displayModeBar: false, staticPlot: true});
</script>
</body>
</html>
